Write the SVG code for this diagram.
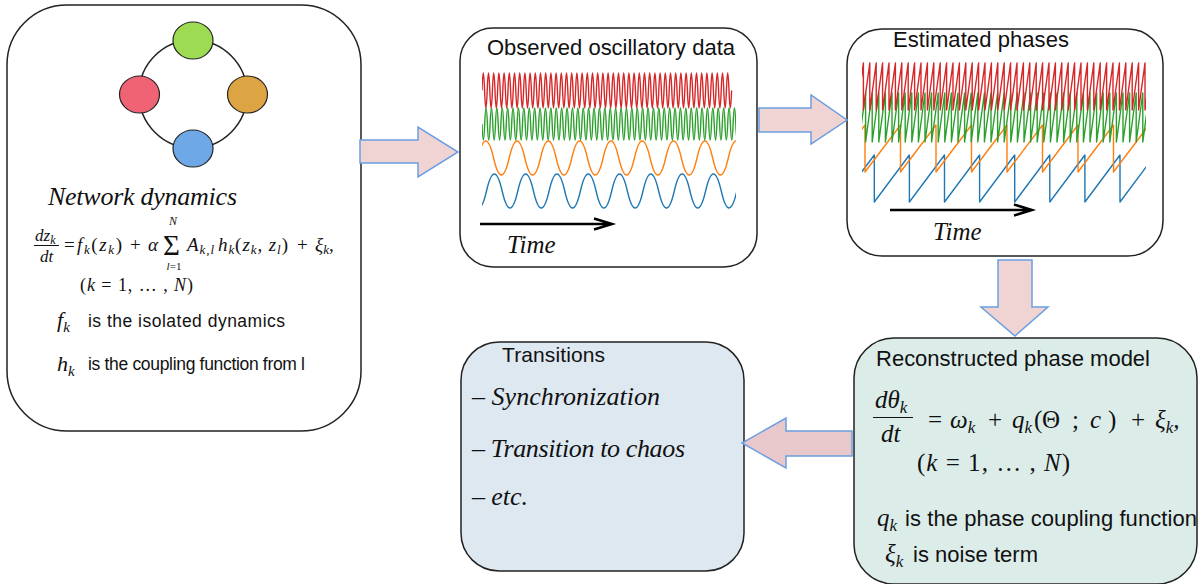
<svg xmlns="http://www.w3.org/2000/svg" width="1198" height="584" viewBox="0 0 1198 584">
<defs>
<style>
.box{stroke:#222;stroke-width:1.5}
.sans{font-family:"Liberation Sans",Arial,sans-serif;fill:#111}
.mi{font-family:"Liberation Serif","Times New Roman",serif;font-style:italic;fill:#111}
.up{font-style:normal}
.arrow{fill:#f0d4d4;stroke:#6a9ee0;stroke-width:1.5;stroke-linejoin:miter}
.w{fill:none;stroke-width:1.4;stroke-linejoin:round}
.tarrow{fill:none;stroke:#000;stroke-width:2.5}
.nd{stroke:#222;stroke-width:1.2}
</style>
<clipPath id="c2"><rect x="482" y="60" width="254" height="160"/></clipPath>
<clipPath id="c3"><rect x="862" y="55" width="284" height="155"/></clipPath>
</defs>
<rect width="1198" height="584" fill="#fff"/>

<g id="node-network">
<rect class="box" x="7" y="5" width="354" height="426" rx="60" fill="#fff"/>
<circle cx="193" cy="94" r="54" fill="none" stroke="#222" stroke-width="1.5"/>
<ellipse class="nd" cx="193" cy="40.5" rx="20" ry="18.5" fill="#9ddc52"/>
<ellipse class="nd" cx="139.5" cy="94.5" rx="20" ry="18.5" fill="#f06374"/>
<ellipse class="nd" cx="247.5" cy="94.5" rx="20" ry="18.5" fill="#dca443"/>
<ellipse class="nd" cx="193" cy="148.5" rx="20" ry="18.5" fill="#6fa8e6"/>
<text class="mi" x="48" y="205" font-size="26" textLength="189">Network dynamics</text>
<text class="mi" x="35" y="241" font-size="17">dz<tspan font-size="12" dy="3">k</tspan></text>
<line x1="34" y1="245.5" x2="59" y2="245.5" stroke="#111" stroke-width="1"/>
<text class="mi" x="40" y="262" font-size="17">dt</text>
<text class="mi" x="64" y="251" font-size="19"><tspan class="up">=</tspan></text>
<text class="mi" x="77" y="251" font-size="19" textLength="45">f<tspan font-size="13" dy="3">k</tspan><tspan class="up" dy="-3">(</tspan>z<tspan font-size="13" dy="3">k</tspan><tspan class="up" dy="-3">)</tspan></text>
<text class="mi" x="130" y="251" font-size="19"><tspan class="up">+</tspan></text>
<text class="mi" x="148" y="251" font-size="19">α</text>
<text class="mi" x="173" y="225" font-size="12" text-anchor="middle">N</text>
<text class="mi" x="163" y="255" font-size="29"><tspan class="up">Σ</tspan></text>
<text class="mi" x="174" y="270" font-size="11" text-anchor="middle">l<tspan class="up">=1</tspan></text>
<text class="mi" x="187" y="251" font-size="19" textLength="101">A<tspan font-size="13" dy="3">k,l</tspan><tspan dx="3" dy="-3">h</tspan><tspan font-size="13" dy="3">k</tspan><tspan class="up" dy="-3">(</tspan>z<tspan font-size="13" dy="3">k</tspan><tspan dy="-3">, z</tspan><tspan font-size="13" dy="3">l</tspan><tspan class="up" dy="-3">)</tspan></text>
<text class="mi" x="297" y="251" font-size="19"><tspan class="up">+</tspan></text>
<text class="mi" x="315" y="251" font-size="19">ξ<tspan font-size="13" dy="3">k</tspan><tspan dy="-3">,</tspan></text>
<text class="mi" x="80" y="291" font-size="18" textLength="113"><tspan class="up">(</tspan>k <tspan class="up">= 1, … ,</tspan> N<tspan class="up">)</tspan></text>
<text class="mi" x="57" y="327" font-size="22">f<tspan font-size="15" dy="5">k</tspan></text>
<text class="sans" x="88" y="327" font-size="17.5" textLength="197">is the isolated dynamics</text>
<text class="mi" x="57" y="371" font-size="22">h<tspan font-size="15" dy="5">k</tspan></text>
<text class="sans" x="88" y="370" font-size="17.5" textLength="217">is the coupling function from l</text>
</g>

<g id="node-observed">
<rect class="box" x="460" y="28" width="297" height="239" rx="33" fill="#fff"/>
<text class="sans" x="487" y="55" font-size="22" textLength="248">Observed oscillatory data</text>
<g clip-path="url(#c2)">
<path class="w" stroke="#1f77b4" d="M455.2,191 q7.825,-34 15.65,0 t15.65,0 15.65,0 15.65,0 15.65,0 15.65,0 15.65,0 15.65,0 15.65,0 15.65,0 15.65,0 15.65,0 15.65,0 15.65,0 15.65,0 15.65,0 15.65,0 15.65,0 15.65,0 15.65,0"/>
<path class="w" stroke="#ff7f0e" d="M477.9,158 q7.825,-34 15.65,0 t15.65,0 15.65,0 15.65,0 15.65,0 15.65,0 15.65,0 15.65,0 15.65,0 15.65,0 15.65,0 15.65,0 15.65,0 15.65,0 15.65,0 15.65,0 15.65,0 15.65,0"/>
<path class="w" stroke="#2ca02c" d="M482,124 q1.35,32 2.7,0 t2.7,0 2.7,0 2.7,0 2.7,0 2.7,0 2.7,0 2.7,0 2.7,0 2.7,0 2.7,0 2.7,0 2.7,0 2.7,0 2.7,0 2.7,0 2.7,0 2.7,0 2.7,0 2.7,0 2.7,0 2.7,0 2.7,0 2.7,0 2.7,0 2.7,0 2.7,0 2.7,0 2.7,0 2.7,0 2.7,0 2.7,0 2.7,0 2.7,0 2.7,0 2.7,0 2.7,0 2.7,0 2.7,0 2.7,0 2.7,0 2.7,0 2.7,0 2.7,0 2.7,0 2.7,0 2.7,0 2.7,0 2.7,0 2.7,0 2.7,0 2.7,0 2.7,0 2.7,0 2.7,0 2.7,0 2.7,0 2.7,0 2.7,0 2.7,0 2.7,0 2.7,0 2.7,0 2.7,0 2.7,0 2.7,0 2.7,0 2.7,0 2.7,0 2.7,0 2.7,0 2.7,0 2.7,0 2.7,0 2.7,0 2.7,0 2.7,0 2.7,0 2.7,0 2.7,0 2.7,0 2.7,0 2.7,0 2.7,0 2.7,0 2.7,0 2.7,0 2.7,0 2.7,0 2.7,0 2.7,0 2.7,0 2.7,0 2.7,0 2.7,0"/>
<path class="w" stroke="#d62728" d="M482,90.5 q1.3,-35 2.6,0 t2.6,0 2.6,0 2.6,0 2.6,0 2.6,0 2.6,0 2.6,0 2.6,0 2.6,0 2.6,0 2.6,0 2.6,0 2.6,0 2.6,0 2.6,0 2.6,0 2.6,0 2.6,0 2.6,0 2.6,0 2.6,0 2.6,0 2.6,0 2.6,0 2.6,0 2.6,0 2.6,0 2.6,0 2.6,0 2.6,0 2.6,0 2.6,0 2.6,0 2.6,0 2.6,0 2.6,0 2.6,0 2.6,0 2.6,0 2.6,0 2.6,0 2.6,0 2.6,0 2.6,0 2.6,0 2.6,0 2.6,0 2.6,0 2.6,0 2.6,0 2.6,0 2.6,0 2.6,0 2.6,0 2.6,0 2.6,0 2.6,0 2.6,0 2.6,0 2.6,0 2.6,0 2.6,0 2.6,0 2.6,0 2.6,0 2.6,0 2.6,0 2.6,0 2.6,0 2.6,0 2.6,0 2.6,0 2.6,0 2.6,0 2.6,0 2.6,0 2.6,0 2.6,0 2.6,0 2.6,0 2.6,0 2.6,0 2.6,0 2.6,0 2.6,0 2.6,0 2.6,0 2.6,0 2.6,0 2.6,0 2.6,0 2.6,0 2.6,0 2.6,0 2.6,0"/>
</g>
<path class="tarrow" d="M480,224 H611 M594,218.5 L612,224 L594,229.5"/>
<text class="mi" x="507" y="253" font-size="25">Time</text>
</g>

<g id="node-phases">
<rect class="box" x="847" y="29" width="316" height="227" rx="35" fill="#fff"/>
<text class="sans" x="893" y="47" font-size="22" textLength="176">Estimated phases</text>
<g clip-path="url(#c3)">
<path class="w" stroke="#1f77b4" d="M839.2,202 l35.1,-47 0,47 35.1,-47 0,47 35.1,-47 0,47 35.1,-47 0,47 35.1,-47 0,47 35.1,-47 0,47 35.1,-47 0,47 35.1,-47 0,47 35.1,-47 0,47"/>
<path class="w" stroke="#ff7f0e" d="M829.5,172 l35.5,-47 0,47 35.5,-47 0,47 35.5,-47 0,47 35.5,-47 0,47 35.5,-47 0,47 35.5,-47 0,47 35.5,-47 0,47 35.5,-47 0,47 35.5,-47 0,47"/>
<path class="w" stroke="#2ca02c" d="M859,142 l6.6,-49 0,49 6.6,-49 0,49 6.6,-49 0,49 6.6,-49 0,49 6.6,-49 0,49 6.6,-49 0,49 6.6,-49 0,49 6.6,-49 0,49 6.6,-49 0,49 6.6,-49 0,49 6.6,-49 0,49 6.6,-49 0,49 6.6,-49 0,49 6.6,-49 0,49 6.6,-49 0,49 6.6,-49 0,49 6.6,-49 0,49 6.6,-49 0,49 6.6,-49 0,49 6.6,-49 0,49 6.6,-49 0,49 6.6,-49 0,49 6.6,-49 0,49 6.6,-49 0,49 6.6,-49 0,49 6.6,-49 0,49 6.6,-49 0,49 6.6,-49 0,49 6.6,-49 0,49 6.6,-49 0,49 6.6,-49 0,49 6.6,-49 0,49 6.6,-49 0,49 6.6,-49 0,49 6.6,-49 0,49 6.6,-49 0,49 6.6,-49 0,49 6.6,-49 0,49 6.6,-49 0,49 6.6,-49 0,49 6.6,-49 0,49 6.6,-49 0,49 6.6,-49 0,49 6.6,-49 0,49"/>
<path class="w" stroke="#d62728" d="M857,110 l6.4,-47 0,47 6.4,-47 0,47 6.4,-47 0,47 6.4,-47 0,47 6.4,-47 0,47 6.4,-47 0,47 6.4,-47 0,47 6.4,-47 0,47 6.4,-47 0,47 6.4,-47 0,47 6.4,-47 0,47 6.4,-47 0,47 6.4,-47 0,47 6.4,-47 0,47 6.4,-47 0,47 6.4,-47 0,47 6.4,-47 0,47 6.4,-47 0,47 6.4,-47 0,47 6.4,-47 0,47 6.4,-47 0,47 6.4,-47 0,47 6.4,-47 0,47 6.4,-47 0,47 6.4,-47 0,47 6.4,-47 0,47 6.4,-47 0,47 6.4,-47 0,47 6.4,-47 0,47 6.4,-47 0,47 6.4,-47 0,47 6.4,-47 0,47 6.4,-47 0,47 6.4,-47 0,47 6.4,-47 0,47 6.4,-47 0,47 6.4,-47 0,47 6.4,-47 0,47 6.4,-47 0,47 6.4,-47 0,47 6.4,-47 0,47 6.4,-47 0,47 6.4,-47 0,47 6.4,-47 0,47 6.4,-47 0,47 6.4,-47 0,47 6.4,-47 0,47"/>
</g>
<path class="tarrow" d="M890,210 H1031 M1014,204.5 L1032,210 L1014,215.5"/>
<text class="mi" x="933" y="240" font-size="25">Time</text>
</g>

<g id="node-model">
<rect class="box" x="854" y="338" width="343" height="246" rx="40" fill="#dcede9"/>
<text class="sans" x="876" y="366" font-size="22" textLength="274">Reconstructed phase model</text>
<text class="mi" x="875" y="408" font-size="25">dθ<tspan font-size="17" dy="5">k</tspan></text>
<line x1="873" y1="417.5" x2="913" y2="417.5" stroke="#111" stroke-width="1.2"/>
<text class="mi" x="881" y="442" font-size="25">dt</text>
<text class="mi" x="928" y="428" font-size="25"><tspan class="up">=</tspan></text>
<text class="mi" x="950" y="428" font-size="25">ω<tspan font-size="17" dy="5">k</tspan></text>
<text class="mi" x="988" y="428" font-size="25"><tspan class="up">+</tspan></text>
<text class="mi" x="1012" y="428" font-size="25">q<tspan font-size="17" dy="5">k</tspan><tspan class="up" x="1034" dy="-5">(</tspan><tspan class="up" x="1042">Θ</tspan><tspan class="up" x="1072">;</tspan><tspan x="1090">c</tspan><tspan class="up" x="1108">)</tspan></text>
<text class="mi" x="1131" y="428" font-size="25"><tspan class="up">+</tspan></text>
<text class="mi" x="1155" y="428" font-size="25">ξ<tspan font-size="17" dy="5">k</tspan><tspan dy="-5">,</tspan></text>
<text class="mi" x="917" y="471" font-size="25" textLength="153"><tspan class="up">(</tspan>k <tspan class="up">= 1, … ,</tspan> N<tspan class="up">)</tspan></text>
<text class="mi" x="877" y="526" font-size="25">q<tspan font-size="17" dy="5">k</tspan></text>
<text class="sans" x="905" y="526" font-size="22" textLength="292">is the phase coupling function</text>
<text class="mi" x="885" y="562" font-size="25">ξ<tspan font-size="17" dy="5">k</tspan></text>
<text class="sans" x="913" y="562" font-size="22" textLength="125">is noise term</text>
</g>

<g id="node-transitions">
<rect class="box" x="461" y="342" width="283" height="229" rx="38" fill="#dee8f1"/>
<text class="sans" x="502" y="362" font-size="21" textLength="103">Transitions</text>
<text class="mi" x="472" y="405" font-size="26" textLength="188"><tspan class="up">–</tspan> Synchronization</text>
<text class="mi" x="472" y="457" font-size="26" textLength="213"><tspan class="up">–</tspan> Transition to chaos</text>
<text class="mi" x="472" y="505" font-size="26" textLength="56"><tspan class="up">–</tspan> etc.</text>
</g>

<g id="connectors">
<polygon class="arrow" points="360,140 418,140 418,127 458,152 418,177 418,163 360,163"/>
<polygon class="arrow" points="759,108 811,108 811,95 847,120 811,144 811,132 759,132"/>
<polygon class="arrow" points="998,260 1032,260 1032,307 1048,307 1015,336 981,307 998,307"/>
<polygon class="arrow" points="852,431 786,431 786,418 742,443 786,468 786,456 852,456" style="fill:#e9c8cb"/>
</g>
</svg>
